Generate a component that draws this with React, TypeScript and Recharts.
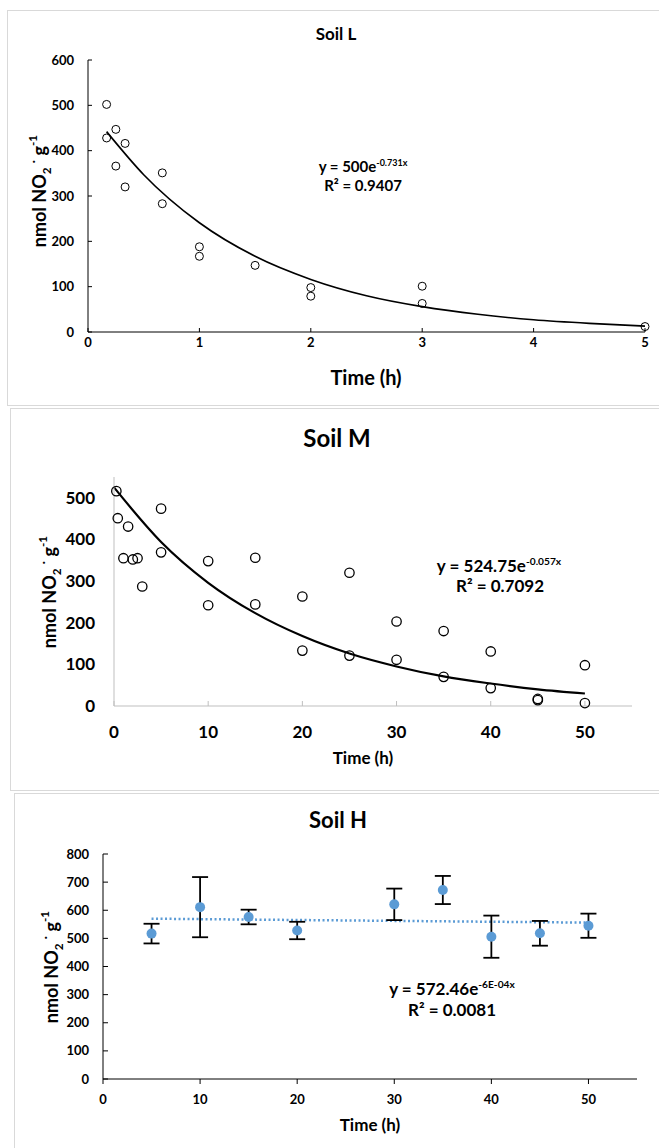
import React from 'react';
import { ComposedChart, Scatter, Line, XAxis, YAxis, ErrorBar, Label } from 'recharts';

const FONT = 'Lato, "Open Sans", sans-serif';

// Soil L
const timeL = [0.167, 0.167, 0.25, 0.25, 0.333, 0.333, 0.667, 0.667, 1, 1, 1.5, 2, 2, 3, 3, 5];
const no2L = [502, 428, 447, 366, 416, 320, 351, 283, 188, 167, 147, 98, 79, 101, 63, 12];
const fitTimeL = [0.167, 0.5, 1, 1.5, 2, 2.5, 3, 3.5, 4, 4.5, 5];
const fitL = [442, 347, 241, 167, 116, 80, 56, 39, 27, 19, 13];
const xTicksL = [0, 1, 2, 3, 4, 5];
const yTicksL = [0, 100, 200, 300, 400, 500, 600];

// Soil M
const timeM = [0.25, 0.4, 1.5, 1, 2, 2.5, 3, 5, 5, 10, 10, 15, 15, 20, 20, 25, 25, 30, 30, 35, 35, 40, 40, 45, 45, 50, 50];
const no2M = [516, 451, 431, 355, 352, 355, 287, 474, 369, 348, 242, 356, 244, 263, 133, 320, 121, 203, 111, 180, 70, 131, 43, 17, 14, 98, 7];
const fitTimeM = [0, 5, 10, 15, 20, 25, 30, 35, 40, 45, 50];
const fitM = [525, 394, 296, 223, 168, 126, 95, 71, 54, 40, 30];
const xTicksM = [0, 10, 20, 30, 40, 50];
const yTicksM = [0, 100, 200, 300, 400, 500];

// Soil H
const timeH = [5, 10, 15, 20, 30, 35, 40, 45, 50];
const no2H = [517, 611, 576, 528, 621, 672, 506, 518, 545];
const errH = [35, 107, 26, 31, 56, 50, 75, 44, 43];
const fitTimeH = [5, 50];
const fitH = [570, 556];
const xTicksH = [0, 10, 20, 30, 40, 50];
const yTicksH = [0, 100, 200, 300, 400, 500, 600, 700, 800];

const zip = (xs: number[], ys: number[]) => xs.map((x, i) => ({ x, y: ys[i] }));

const ptsL = zip(timeL, no2L);
const lineL = zip(fitTimeL, fitL);
const ptsM = zip(timeM, no2M);
const lineM = zip(fitTimeM, fitM);
const ptsH = timeH.map((x, i) => ({ x, y: no2H[i], err: errH[i] }));
const lineH = zip(fitTimeH, fitH);

const ring = (r: number, w: number) => (p: any) => (
  <circle cx={p.cx} cy={p.cy} r={r} fill="none" stroke="#000" strokeWidth={w} />
);
const dotH = (p: any) => <circle cx={p.cx} cy={p.cy} r={5} fill="#5b9bd5" />;

function YTitle({ cx, cy, size }: { cx: number; cy: number; size: number }) {
  const s = size * 0.65;
  return (
    <text x={cx} y={cy} transform={`rotate(-90 ${cx} ${cy})`} textAnchor="middle" dominantBaseline="central"
      fontSize={size} fontWeight={700} fill="#000" fontFamily={FONT}>
      nmol NO<tspan fontSize={s} baselineShift="sub">2</tspan>
      <tspan> </tspan>
      <tspan fontSize={s} baselineShift="super">·</tspan>
      <tspan> g</tspan>
      <tspan fontSize={s} baselineShift="super">-1</tspan>
    </text>
  );
}

function XTitle({ cx, cy, size }: { cx: number; cy: number; size: number }) {
  return (
    <text x={cx} y={cy} textAnchor="middle" dominantBaseline="central" fontSize={size} fontWeight={700}
      fill="#000" fontFamily={FONT}>
      Time (h)
    </text>
  );
}

function Txt({ x, y, size, children }: { x: number; y: number; size: number; children: React.ReactNode }) {
  return (
    <div style={{ position: 'absolute', left: x, top: y, transform: 'translate(-50%, -50%)', whiteSpace: 'nowrap',
      fontSize: size, fontWeight: 700, lineHeight: 1, color: '#000' }}>
      {children}
    </div>
  );
}

const frame = (left: number, top: number, height: number): React.CSSProperties => ({
  position: 'absolute', left, top, width: 720, height, border: '1px solid #d9d9d9', boxSizing: 'border-box',
});

const tick = (size: number) => ({ fill: '#000', fontSize: size, fontWeight: 700, fontFamily: FONT });
const sup = { fontSize: '0.6em', verticalAlign: 'super', lineHeight: 0 } as React.CSSProperties;

export default function App() {
  return (
    <div style={{ position: 'absolute', left: 0, top: 0, width: 659, height: 1148, overflow: 'hidden',
      background: '#fff', fontFamily: FONT }}>
      <div style={frame(7, 10, 396)} />
      <div style={frame(10, 408, 383)} />
      <div style={frame(14, 793, 400)} />

      <ComposedChart width={659} height={400} margin={{ top: 60, right: 14, bottom: 28, left: 28 }}
        style={{ position: 'absolute', left: 0, top: 0 }}>
        <XAxis type="number" dataKey="x" domain={[0, 5]} ticks={xTicksL} interval={0} height={40}
          stroke="#000" tickSize={-4} tickMargin={9.5} tick={tick(13)}>
          <Label content={() => <XTitle cx={366} cy={377} size={20} />} />
        </XAxis>
        <YAxis type="number" dataKey="y" domain={[0, 600]} ticks={yTicksL} interval={0} width={60}
          stroke="#000" tickSize={-4} tickMargin={18} tick={tick(13)}>
          <Label content={() => <YTitle cx={39} cy={191} size={18} />} />
        </YAxis>
        <Line data={lineL} dataKey="y" type="monotone" stroke="#000" strokeWidth={1.6} dot={false}
          isAnimationActive={false} />
        <Scatter data={ptsL} dataKey="y" shape={ring(4, 1)} isAnimationActive={false} />
      </ComposedChart>

      <ComposedChart width={659} height={390} margin={{ top: 77, right: 27, bottom: 44, left: 54 }}
        style={{ position: 'absolute', left: 0, top: 400 }}>
        <XAxis type="number" dataKey="x" domain={[0, 55]} ticks={xTicksM} interval={0} height={40}
          stroke="#bfbfbf" tickSize={-5} tickMargin={25} tick={tick(17)}>
          <Label content={() => <XTitle cx={363} cy={357} size={17} />} />
        </XAxis>
        <YAxis type="number" dataKey="y" domain={[0, 550]} ticks={yTicksM} interval={0} width={60}
          stroke="#bfbfbf" tickLine={false} tickSize={0} tickMargin={19} tick={tick(17)}>
          <Label content={() => <YTitle cx={49} cy={192} size={18} />} />
        </YAxis>
        <Line data={lineM} dataKey="y" type="monotone" stroke="#000" strokeWidth={2.2} dot={false}
          isAnimationActive={false} />
        <Scatter data={ptsM} dataKey="y" shape={ring(4.7, 1.3)} isAnimationActive={false} />
      </ComposedChart>

      <ComposedChart width={659} height={358} margin={{ top: 64, right: 22, bottom: 29, left: 43 }}
        style={{ position: 'absolute', left: 0, top: 790 }}>
        <XAxis type="number" dataKey="x" domain={[0, 55]} ticks={xTicksH} interval={0} height={40}
          stroke="#000" tickSize={5} tickMargin={10.5} tick={tick(13)}>
          <Label content={() => <XTitle cx={370} cy={334} size={17} />} />
        </XAxis>
        <YAxis type="number" dataKey="y" domain={[0, 800]} ticks={yTicksH} interval={0} width={60}
          stroke="#000" tickSize={-5} tickMargin={19} tick={tick(13)}>
          <Label content={() => <YTitle cx={51} cy={177} size={18} />} />
        </YAxis>
        <Line data={lineH} dataKey="y" type="linear" stroke="#5b9bd5" strokeWidth={2.5} strokeDasharray="2 2.5"
          dot={false} isAnimationActive={false} />
        <Scatter data={ptsH} dataKey="y" shape={dotH} isAnimationActive={false}>
          <ErrorBar dataKey="err" direction="y" width={8} stroke="#000" strokeWidth={1.8} />
        </Scatter>
      </ComposedChart>

      <Txt x={336} y={33} size={17}>Soil L</Txt>
      <Txt x={363} y={166} size={15}>y = 500e<span style={sup}>-0.731x</span></Txt>
      <Txt x={363} y={185} size={15}>R² = 0.9407</Txt>

      <Txt x={337} y={438} size={24}>Soil M</Txt>
      <Txt x={499} y={565} size={17}>y = 524.75e<span style={sup}>-0.057x</span></Txt>
      <Txt x={500} y={585} size={17}>R² = 0.7092</Txt>

      <Txt x={338} y={820} size={22}>Soil H</Txt>
      <Txt x={452} y={988} size={17}>y = 572.46e<span style={sup}>-6E-04x</span></Txt>
      <Txt x={452} y={1009} size={17}>R² = 0.0081</Txt>
    </div>
  );
}
